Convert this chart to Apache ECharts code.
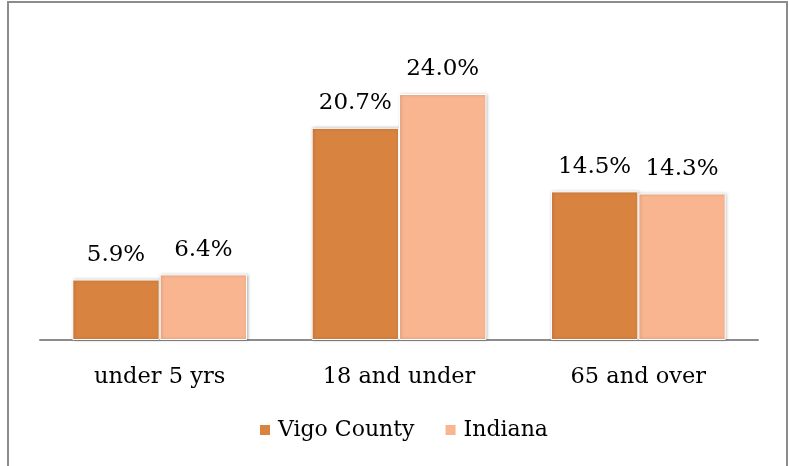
<!DOCTYPE html>
<html>
<head>
<meta charset="utf-8">
<title>Age groups</title>
<style>
html, body { margin: 0; padding: 0; background: #fff; }
#container { width: 789px; height: 466px; }
</style>
</head>
<body>
<div id="container"></div>
<script src="https://cdn.jsdelivr.net/npm/echarts@6/dist/echarts.min.js"></script>
<script type="text/javascript">
var categories = ['under 5 yrs', '18 and under', '65 and over'];
var vigoValues = [5.9, 20.7, 14.5];
var indianaValues = [6.4, 24.0, 14.3];
var seriesNames = ['Vigo County', 'Indiana'];

var serifFont = '"DejaVu Serif", "Liberation Serif", serif';

function barStyle(color) {
	return {
		color: color,
		borderColor: '#fff',
		borderWidth: 1,
		shadowColor: 'rgba(0,0,0,0.25)',
		shadowBlur: 3,
		shadowOffsetX: 1,
		shadowOffsetY: 0
	};
}

var labelStyle = {
	show: true,
	position: 'top',
	distance: 13,
	fontFamily: serifFont,
	fontSize: 23,
	color: '#000',
	formatter: function (p) { return p.value.toFixed(1) + '%'; }
};

var myChart = echarts.init(document.getElementById('container'));

var option = {
	animation: false,
	backgroundColor: '#fff',
	graphic: [{
		type: 'rect',
		shape: { x: 8, y: 2, width: 779, height: 500 },
		style: { fill: 'none', stroke: '#8c8c8c', lineWidth: 2 },
		silent: true
	}],
	grid: { left: 40, right: 31, top: 32.5, bottom: 126 },
	legend: {
		data: seriesNames,
		bottom: 20,
		left: 253,
		itemWidth: 12,
		itemHeight: 12,
		itemGap: 29,
		icon: 'rect',
		textStyle: { fontFamily: serifFont, fontSize: 22, color: '#000', padding: [0, 0, 0, 2] }
	},
	xAxis: {
		type: 'category',
		data: categories,
		axisLine: { lineStyle: { color: '#8c8c8c', width: 2 } },
		axisTick: { show: false },
		axisLabel: { margin: 26, fontFamily: serifFont, fontSize: 22.5, color: '#000' }
	},
	yAxis: {
		type: 'value',
		min: 0,
		max: 30,
		show: false,
		splitLine: { show: false }
	},
	series: [{
		name: seriesNames[0],
		type: 'bar',
		data: vigoValues,
		barGap: '0%',
		barCategoryGap: '27%',
		itemStyle: barStyle('#d98340'),
		label: labelStyle
	}, {
		name: seriesNames[1],
		type: 'bar',
		data: indianaValues,
		itemStyle: barStyle('#f8b590'),
		label: labelStyle
	}]
};
myChart.setOption(option);
</script>
</body>
</html>
